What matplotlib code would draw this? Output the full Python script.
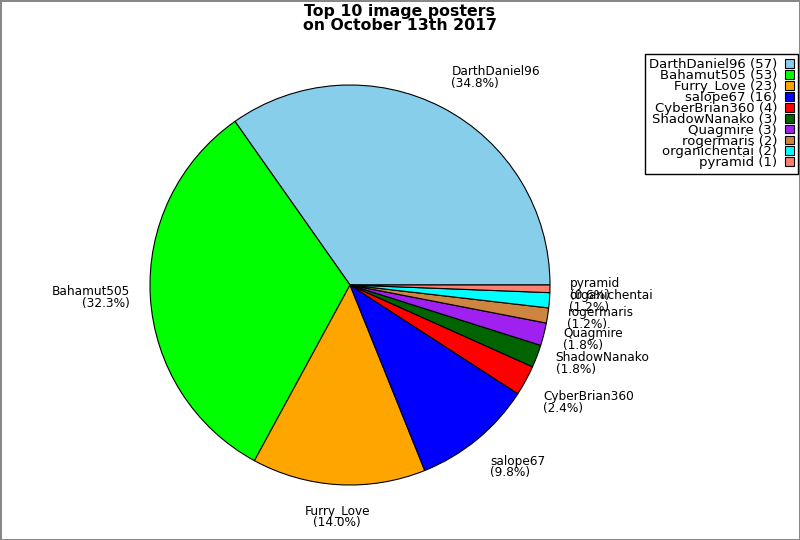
import numpy as np
import matplotlib
matplotlib.use('Agg')
import matplotlib.pyplot as plt

# Posters and image counts
names = ['DarthDaniel96', 'Bahamut505', 'Furry_Love', 'salope67', 'CyberBrian360',
         'ShadowNanako', 'Quagmire', 'rogermaris', 'organichentai', 'pyramid']
counts = [57, 53, 23, 16, 4, 3, 3, 2, 2, 1]
colours = ['#87ceeb', '#00ff00', '#ffa500', '#0000ff', '#ff0000',
           '#006400', '#a020f0', '#cd853f', '#00ffff', '#fa8072']
title = 'Top 10 image posters\non October 13th 2017'

W, H = 800, 540
CX, CY, R = 350, 540 - 285, 200

fig = plt.figure(figsize=(W / 100, H / 100), dpi=100)
fig.patch.set_edgecolor('#888888')
fig.patch.set_linewidth(2)
ax = fig.add_axes([0, 0, 1, 1])

wedges, _ = ax.pie(counts, colors=colours, startangle=0, counterclock=True,
                   center=(CX, CY), radius=R, frame=True,
                   wedgeprops=dict(edgecolor='black', linewidth=0.8))
ax.set_xlim(0, W)
ax.set_ylim(0, H)
ax.set_axis_off()

total = float(sum(counts))
for w, name, c in zip(wedges, names, counts):
    ang = (w.theta1 + w.theta2) / 2.0
    rad = np.deg2rad(ang)
    x = CX + 1.1 * R * np.cos(rad)
    y = CY + 1.1 * R * np.sin(rad)
    # snap alignment to the nearest of eight compass directions
    octant = int(round(ang / 45.0)) % 8
    dx = [1, 1, 0, -1, -1, -1, 0, 1][octant]
    dy = [0, 1, 1, 1, 0, -1, -1, -1][octant]
    ha = {1: 'left', 0: 'center', -1: 'right'}[dx]
    va = {1: 'bottom', 0: 'center', -1: 'top'}[dy]
    ax.text(x, y, '%s\n(%.1f%%)' % (name, 100 * c / total), ha=ha, va=va,
            multialignment=ha, fontsize=8.7, linespacing=0.87)

labels = ['%s (%d)' % (n, c) for n, c in zip(names, counts)]
leg = fig.legend(wedges, labels, loc='upper right',
                 bbox_to_anchor=(798 / W, 1 - 54 / H), borderaxespad=0,
                 markerfirst=False, fontsize=9.5, labelspacing=-0.16,
                 handlelength=0.65, handleheight=0.65, handletextpad=0.6,
                 borderpad=0.33, fancybox=False, framealpha=1,
                 edgecolor='black')
leg.get_frame().set_linewidth(1)

fig.text(0.5, 1 - 4 / H, title, ha='center', va='top', fontsize=11.3,
         fontweight='bold', linespacing=0.9)

fig.savefig('out.png', dpi=100, edgecolor=fig.get_edgecolor())
